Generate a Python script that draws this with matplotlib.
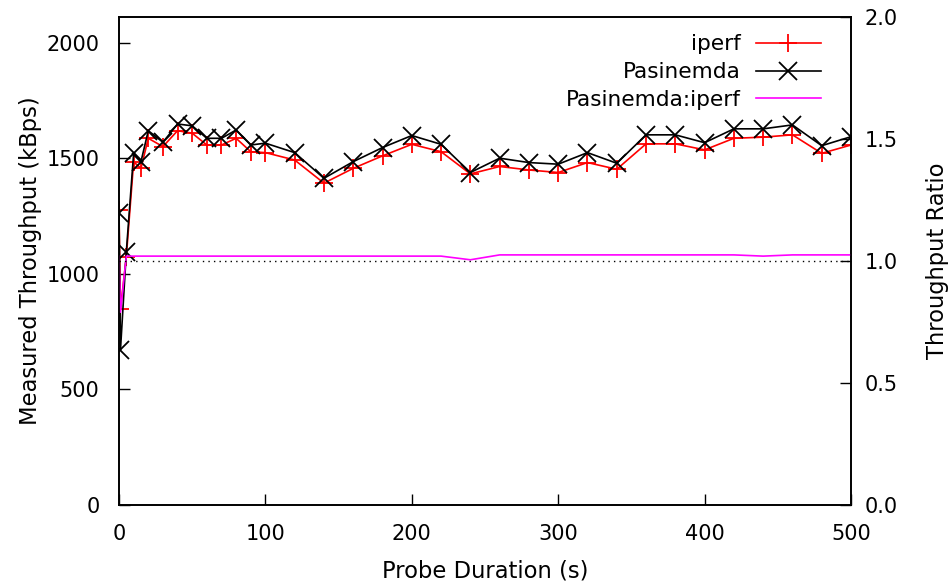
import matplotlib.pyplot as plt
import numpy as np

duration = [0, 1, 5, 10, 15, 20, 30, 40, 50, 60, 70, 80, 90, 100,
            120, 140, 160, 180, 200, 220, 240, 260, 280, 300, 320,
            340, 360, 380, 400, 420, 440, 460, 480, 500]
iperf = [1275, 848, 1075, 1485, 1457, 1587, 1551, 1620, 1609, 1558, 1558,
         1587, 1529, 1525, 1493, 1393, 1457, 1511, 1561, 1529, 1433, 1465,
         1450, 1439, 1482, 1453, 1563, 1563, 1537, 1587, 1592, 1602, 1522, 1558]
pasinemda = [1265, 671, 1095, 1522, 1486, 1620, 1570, 1649, 1641, 1587, 1587,
             1623, 1558, 1566, 1525, 1414, 1486, 1547, 1599, 1561, 1439, 1501,
             1482, 1475, 1525, 1479, 1602, 1602, 1568, 1628, 1628, 1645, 1555, 1594]
ratio = [1.02, 0.79, 1.02, 1.02, 1.02, 1.02, 1.02, 1.02, 1.02, 1.02, 1.02,
         1.02, 1.02, 1.02, 1.02, 1.02, 1.02, 1.02, 1.02, 1.02, 1.005, 1.025,
         1.025, 1.025, 1.025, 1.025, 1.025, 1.025, 1.025, 1.025, 1.02, 1.025,
         1.025, 1.025]

fs = 15
lfs = 16.3
fig = plt.figure(figsize=(9.53, 5.87), dpi=100)
ax = fig.add_axes([119/953, 82/587, 732/953, 488/587])
ax2 = ax.twinx()

l1, = ax.plot(duration, iperf, color='#ff0000', lw=1.2, marker='+',
              ms=13, mew=1.3, label='iperf')
l2, = ax.plot(duration, pasinemda, color='black', lw=1.2, marker='x',
              ms=13, mew=1.3, label='Pasinemda')
l3, = ax2.plot(duration, ratio, color='#ff00ff', lw=1.2, label='Pasinemda:iperf')
ax2.axhline(1.0, color='black', lw=1, ls=(0, (1, 3)))

ax.set_xlim(0, 500)
ax.set_ylim(0, 2112)
ax2.set_ylim(0, 2)
ax.set_xticks([0, 100, 200, 300, 400, 500])
ax.set_yticks([0, 500, 1000, 1500, 2000])
ax2.set_yticks([0, 0.5, 1.0, 1.5, 2.0])
ax2.set_yticklabels(['0.0', '0.5', '1.0', '1.5', '2.0'])

ax.tick_params(axis='both', direction='in', length=8, width=1, labelsize=fs)
ax.tick_params(axis='y', pad=14)
ax.tick_params(axis='x', pad=14)
ax2.tick_params(axis='y', direction='in', length=8, width=1, labelsize=fs, pad=10)
for a in (ax, ax2):
    for s in a.spines.values():
        s.set_linewidth(1.2)

ax.set_xlabel('Probe Duration (s)', fontsize=lfs, labelpad=11)
ax.set_ylabel('Measured Throughput (kBps)', fontsize=lfs, labelpad=3)
ax2.set_ylabel('Throughput Ratio', fontsize=lfs, labelpad=20)

ax2.legend(handles=[l1, l2, l3], loc='upper right', frameon=False,
           bbox_to_anchor=(1, 1 + 13/488),
           markerfirst=False, fontsize=15.6, handlelength=3.0,
           labelspacing=0.36, borderaxespad=1.0, handletextpad=0.7)

fig.savefig('out.png', dpi=100)
